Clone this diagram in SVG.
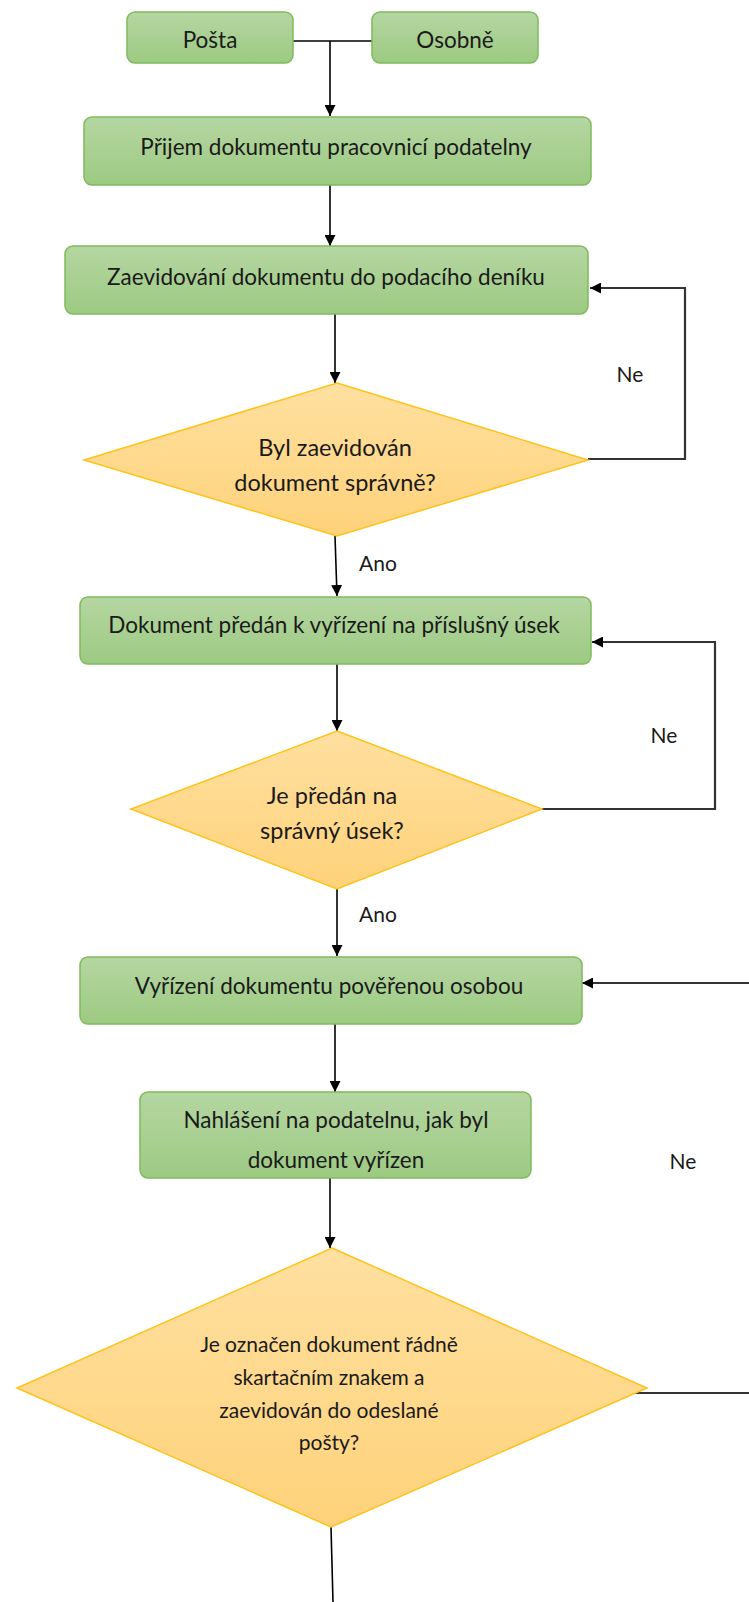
<svg xmlns="http://www.w3.org/2000/svg" width="749" height="1602" viewBox="0 0 749 1602">
<defs>
<linearGradient id="gGreen" x1="0" y1="0" x2="0" y2="1">
<stop offset="0" stop-color="#b5d6a2"/>
<stop offset="1" stop-color="#9dca82"/>
</linearGradient>
<linearGradient id="gGold" x1="0" y1="0" x2="0" y2="1">
<stop offset="0" stop-color="#ffe0a0"/>
<stop offset="1" stop-color="#fed27a"/>
</linearGradient>
<marker id="arr" viewBox="0 0 10 10" refX="10" refY="5" markerWidth="11" markerHeight="11" markerUnits="userSpaceOnUse" orient="auto">
<path d="M0,0 L10,5 L0,10 z" fill="#000"/>
</marker>
</defs>
<style>
.box{fill:url(#gGreen);stroke:#7fbb5c;stroke-width:1.5}
.dia{fill:url(#gGold);stroke:#ffc21a;stroke-width:1.5}
.t{font-family:Lato,"Liberation Sans",sans-serif;font-size:22.5px;fill:#1a1a1a;text-anchor:middle;dominant-baseline:central}
.td{font-size:23.5px}
.ts{font-size:21px}
.lbl{font-family:Lato,"Liberation Sans",sans-serif;font-size:21px;fill:#1a1a1a;text-anchor:middle;dominant-baseline:central}
.c{fill:none;stroke:#000;stroke-width:1.6}
.loop{fill:none;stroke:#333;stroke-width:2.2}
</style>
<rect width="749" height="1602" fill="#fff"/>
<g id="connectors">
<path class="c" d="M293,41 H372"/>
<path class="c" d="M330,41 V116" marker-end="url(#arr)"/>
<path class="c" d="M330,185 V246" marker-end="url(#arr)"/>
<path class="c" d="M335,314 V383" marker-end="url(#arr)"/>
<path class="loop" d="M588,459 H685 V288 H590" marker-end="url(#arr)"/>
<path class="c" d="M335,536 L337,596" marker-end="url(#arr)"/>
<path class="c" d="M337,664 V731" marker-end="url(#arr)"/>
<path class="loop" d="M542,809 H715 V642 H592" marker-end="url(#arr)"/>
<path class="c" d="M337,889 V956" marker-end="url(#arr)"/>
<path class="loop" d="M749,983 H582" marker-end="url(#arr)"/>
<path class="c" d="M335,1024 V1092" marker-end="url(#arr)"/>
<path class="c" d="M330,1178 V1248" marker-end="url(#arr)"/>
<path class="loop" d="M630,1393 H749"/>
<path class="c" d="M331,1527 L333,1602"/>
<text class="lbl" x="630" y="373">Ne</text>
<text class="lbl" x="378" y="562">Ano</text>
<text class="lbl" x="664" y="734">Ne</text>
<text class="lbl" x="378" y="913">Ano</text>
<text class="lbl" x="683" y="1160">Ne</text>
</g>
<g id="posta">
<rect class="box" x="127" y="12" width="166" height="51" rx="8"/>
<text class="t" x="210" y="39">Pošta</text>
</g>
<g id="osobne">
<rect class="box" x="372" y="12" width="166" height="51" rx="8"/>
<text class="t" x="455" y="39">Osobně</text>
</g>
<g id="prijem">
<rect class="box" x="84" y="117" width="507" height="68" rx="8"/>
<text class="t" x="336" y="146">Přijem dokumentu pracovnicí podatelny</text>
</g>
<g id="zaevidovani">
<rect class="box" x="65" y="246" width="523" height="68" rx="8"/>
<text class="t" x="326" y="276">Zaevidování dokumentu do podacího deníku</text>
</g>
<g id="dia1">
<path class="dia" d="M337,383 L588,460 L337,536 L84,460 Z"/>
<text class="t td" x="335" y="447">Byl zaevidován</text>
<text class="t td" x="335" y="482">dokument správně?</text>
</g>
<g id="predan">
<rect class="box" x="80" y="597" width="511" height="67" rx="8"/>
<text class="t" x="334" y="624">Dokument předán k vyřízení na příslušný úsek</text>
</g>
<g id="dia2">
<path class="dia" d="M337,731 L542,809 L337,889 L131,809 Z"/>
<text class="t td" x="332" y="795">Je předán na</text>
<text class="t td" x="332" y="830">správný úsek?</text>
</g>
<g id="vyrizeni">
<rect class="box" x="80" y="957" width="502" height="67" rx="8"/>
<text class="t" x="329" y="985">Vyřízení dokumentu pověřenou osobou</text>
</g>
<g id="nahlaseni">
<rect class="box" x="140" y="1092" width="391" height="86" rx="8"/>
<text class="t" x="336" y="1119">Nahlášení na podatelnu, jak byl</text>
<text class="t" x="336" y="1159">dokument vyřízen</text>
</g>
<g id="dia3">
<path class="dia" d="M332,1248 L647,1388 L331,1527 L17,1388 Z"/>
<text class="t ts" x="329" y="1343">Je označen dokument řádně</text>
<text class="t ts" x="329" y="1376">skartačním znakem a</text>
<text class="t ts" x="329" y="1409">zaevidován do odeslané</text>
<text class="t ts" x="329" y="1441">pošty?</text>
</g>
</svg>
